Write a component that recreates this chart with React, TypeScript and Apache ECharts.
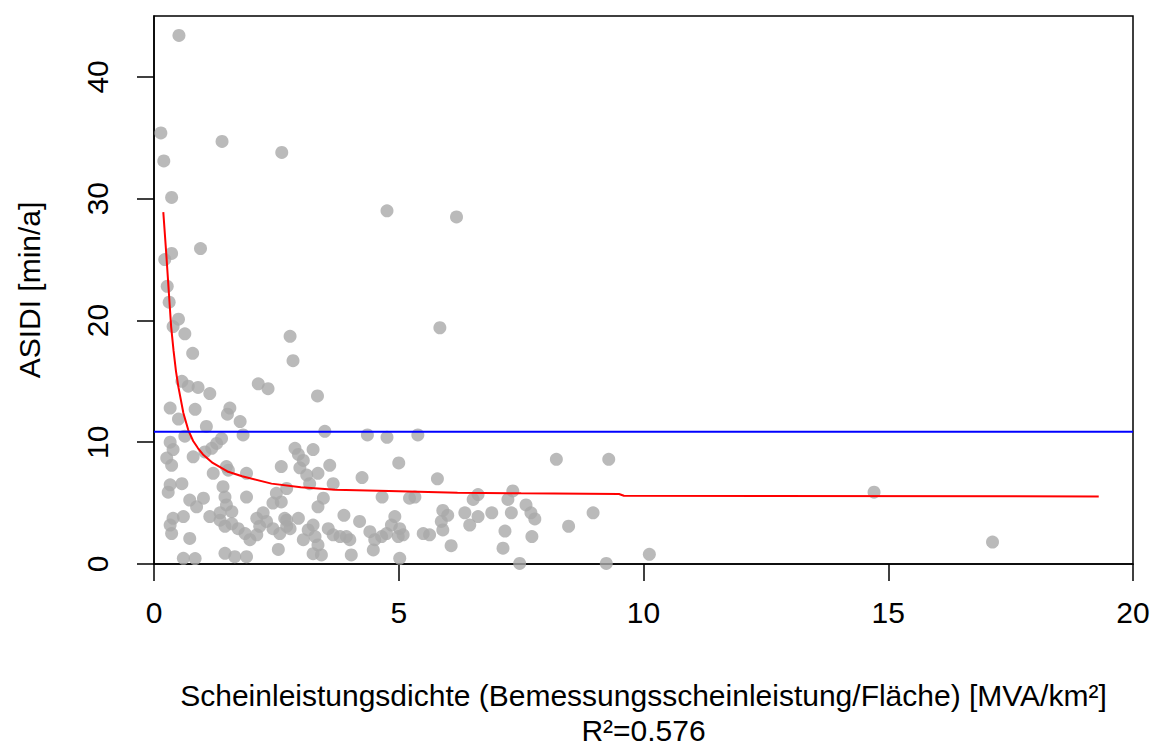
import React, { useEffect, useRef } from "react";
import * as echarts from "echarts";

// Scheinleistungsdichte [MVA/km²] vs. ASIDI [min/a], one point per network area
const pointsXY: [number, number][] = [
  [0.51, 43.4], [0.14, 35.4], [0.2, 33.1], [1.39, 34.7], [2.61, 33.8], [0.36, 30.1],
  [4.76, 29.0], [6.18, 28.5], [0.95, 25.9], [0.36, 25.5], [0.22, 25.0], [0.27, 22.8],
  [0.31, 21.5], [0.5, 20.1], [0.39, 19.5], [0.63, 18.9], [0.79, 17.3], [2.78, 18.7],
  [2.84, 16.7], [5.84, 19.4],
  [0.57, 15.0], [0.7, 14.6], [0.9, 14.5], [1.14, 14.0], [2.13, 14.8], [2.33, 14.4],
  [3.34, 13.8], [0.33, 12.8], [0.84, 12.7], [1.55, 12.8], [1.5, 12.3], [0.5, 11.9],
  [1.76, 11.7], [1.07, 11.3],
  [1.82, 10.6], [3.49, 10.9], [4.36, 10.6], [4.76, 10.4], [5.39, 10.6], [0.63, 10.5],
  [0.33, 10.0], [0.39, 9.4], [0.26, 8.7], [0.36, 8.1], [1.38, 10.3], [1.28, 9.9],
  [1.18, 9.5], [1.04, 9.2], [0.8, 8.8], [2.88, 9.5], [3.25, 9.4], [2.95, 9.0],
  [3.05, 8.5], [3.59, 8.1], [5.0, 8.3], [8.22, 8.6], [9.29, 8.6], [1.48, 8.0], [2.6, 8.0],
  [1.21, 7.45], [1.52, 7.7], [1.89, 7.45], [2.98, 7.9], [3.35, 7.45], [3.12, 7.3],
  [4.25, 7.1], [5.79, 7.0], [3.18, 6.6], [3.66, 6.6], [0.33, 6.5], [0.57, 6.6],
  [0.29, 5.9], [1.41, 6.35], [2.71, 6.2], [2.5, 5.8],
  [1.45, 5.5], [1.48, 4.85], [1.59, 4.3], [1.89, 5.5], [2.43, 5.0], [2.6, 5.1],
  [0.73, 5.25], [1.01, 5.4], [0.87, 4.7], [3.46, 5.4], [3.35, 4.7], [4.66, 5.5],
  [5.22, 5.4], [5.33, 5.5], [6.62, 5.7], [6.52, 5.3], [7.33, 6.0], [7.23, 5.3],
  [14.71, 5.9], [7.6, 4.85],
  [0.39, 3.75], [0.6, 3.9], [0.33, 3.2], [0.36, 2.5], [0.73, 2.1],
  [1.14, 3.9], [1.35, 3.6], [1.59, 3.3], [1.72, 2.9], [1.86, 2.5], [1.96, 2.0],
  [2.1, 2.4], [2.16, 3.1], [2.1, 3.75], [2.23, 4.2], [1.35, 4.2], [1.45, 3.1],
  [2.3, 3.5], [2.43, 2.9], [2.57, 2.5], [2.71, 3.1], [2.67, 3.75], [2.95, 3.75],
  [2.78, 2.9], [2.71, 3.6],
  [3.88, 4.0], [4.2, 3.5], [3.25, 3.2], [3.15, 2.8], [3.05, 2.0], [3.29, 2.25],
  [3.35, 1.56], [3.56, 2.9], [3.66, 2.4], [3.8, 2.25], [3.93, 2.25], [4.0, 2.0],
  [4.41, 2.65], [4.51, 2.0], [4.65, 2.25], [4.48, 1.15],
  [4.92, 3.9], [4.85, 3.2], [5.02, 2.9], [4.75, 2.5], [4.99, 2.25], [5.09, 2.4], [5.5, 2.5],
  [5.9, 4.4], [6.0, 4.0], [5.87, 3.5], [5.9, 2.8], [5.63, 2.4], [6.07, 1.5],
  [6.35, 4.2], [6.45, 3.2], [6.62, 3.9], [6.9, 4.2], [7.3, 4.2], [7.7, 4.2], [7.78, 3.7],
  [7.17, 2.7], [7.13, 1.3], [7.72, 2.25], [8.47, 3.1], [8.97, 4.2],
  [0.6, 0.47], [0.84, 0.45], [1.45, 0.88], [1.65, 0.6], [1.89, 0.6], [2.54, 1.2],
  [3.25, 0.85], [3.42, 0.74], [4.03, 0.74], [5.02, 0.47], [10.12, 0.8], [7.47, 0.05],
  [9.24, 0.05], [17.13, 1.8],
];

// fitted curve through the sorted x values
const fitXY: [number, number][] = [
  [0.19, 28.9], [0.25, 25.5], [0.3, 22.5], [0.35, 19.5], [0.4, 17.5], [0.45, 15.8],
  [0.5, 14.5], [0.6, 12.4], [0.7, 11.0], [0.8, 10.1], [0.9, 9.5], [1.0, 9.0],
  [1.2, 8.3], [1.5, 7.6], [1.8, 7.2], [2.4, 6.6], [3.0, 6.3], [3.7, 6.1], [4.8, 6.0],
  [6.2, 5.85], [7.5, 5.8], [9.5, 5.75], [9.6, 5.6], [19.3, 5.55],
];

// mean ASIDI
const meanAsidi = 10.87;

const xTicks = [0, 5, 10, 15, 20];
const yTicks = [0, 10, 20, 30, 40];

const xTitle = "Scheinleistungsdichte (Bemessungsscheinleistung/Fläche) [MVA/km²]";
const fitNote = "R²=0.576";

const FONT = "'Liberation Sans', Arial, sans-serif";

export default function App() {
  const ref = useRef<HTMLDivElement>(null);

  useEffect(() => {
    if (!ref.current) return;
    const chart = echarts.init(ref.current, null, { renderer: "svg", width: 1155, height: 746 });
    chart.setOption({
      animation: false,
      backgroundColor: "#ffffff",
      textStyle: { fontFamily: FONT },
      grid: {
        left: 154,
        right: 22,
        top: 16,
        bottom: 182,
        show: true,
        borderColor: "#000000",
        borderWidth: 1.5,
        containLabel: false,
        outerBoundsMode: "none",
      },
      xAxis: {
        type: "value",
        min: 0,
        max: 20,
        interval: 5,
        splitLine: { show: false },
        axisLine: { show: true, onZero: false, lineStyle: { color: "#000", width: 1.5 } },
        axisTick: { show: true, inside: false, length: 17, lineStyle: { color: "#000", width: 1.5 }, customValues: xTicks },
        axisLabel: { margin: 33, fontSize: 30, color: "#000", fontFamily: FONT, customValues: xTicks },
        name: xTitle,
        nameLocation: "middle",
        nameGap: 116,
        nameTextStyle: { fontSize: 30, color: "#000", lineHeight: 30, fontFamily: FONT },
      },
      yAxis: {
        type: "value",
        min: 0,
        max: 45,
        interval: 10,
        splitLine: { show: false },
        axisLine: { show: true, onZero: false, lineStyle: { color: "#000", width: 1.5 } },
        axisTick: { show: true, inside: false, length: 17, lineStyle: { color: "#000", width: 1.5 }, customValues: yTicks },
        axisLabel: { margin: 42, fontSize: 30, color: "#000", rotate: 90, fontFamily: FONT, customValues: yTicks },
        name: "ASIDI [min/a]",
        nameLocation: "middle",
        nameRotate: 90,
        nameGap: 110,
        nameTextStyle: { fontSize: 30, color: "#000", fontFamily: FONT },
      },
      graphic: [
        {
          type: "text",
          x: 643.5,
          y: 730,
          style: {
            text: fitNote,
            fontSize: 30,
            fontFamily: FONT,
            fill: "#000",
            align: "center",
            verticalAlign: "middle",
          },
        },
      ],
      series: [
        {
          type: "scatter",
          data: pointsXY,
          symbol: "circle",
          symbolSize: 13,
          itemStyle: { color: "#a9a9a9" },
          z: 2,
        },
        {
          type: "line",
          data: fitXY,
          showSymbol: false,
          symbol: "none",
          lineStyle: { color: "#ff0000", width: 2 },
          z: 3,
        },
        {
          type: "line",
          data: [[0, meanAsidi], [20, meanAsidi]],
          showSymbol: false,
          symbol: "none",
          lineStyle: { color: "#0000ff", width: 2 },
          z: 3,
        },
      ],
    });
    return () => chart.dispose();
  }, []);

  return (
    <div
      ref={ref}
      style={{ position: "absolute", left: 0, top: 0, width: 1155, height: 746, background: "#fff" }}
    />
  );
}
